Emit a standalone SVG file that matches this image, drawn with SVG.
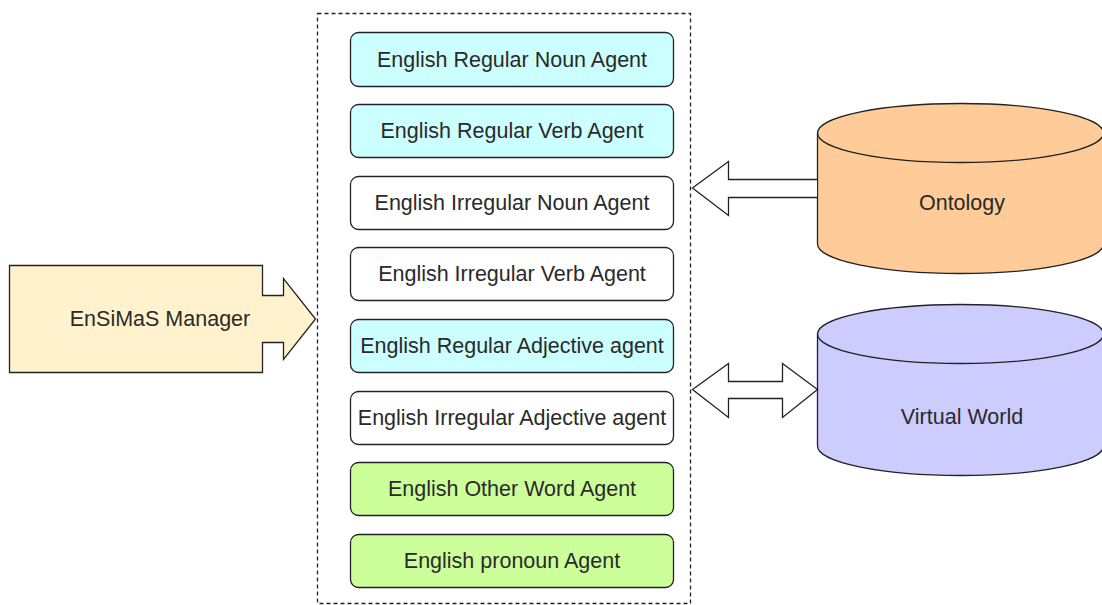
<svg xmlns="http://www.w3.org/2000/svg" width="1102" height="605" viewBox="0 0 1102 605">
<style>
.agent{stroke:#222;stroke-width:1.3}
.cyan{fill:#CCFFFF}
.white{fill:#FFFFFF}
.green{fill:#CCFF99}
text{font-family:"Liberation Sans",Arial,sans-serif;font-size:21.5px;fill:#2a2a2a;text-anchor:middle;dominant-baseline:central}
.shape{stroke:#222;stroke-width:1.3}
.arrow{fill:#fff;stroke:#222;stroke-width:1.3;stroke-linejoin:miter}
</style>
<rect width="1102" height="605" fill="#fff"/>
<g id="container">
<rect x="317.5" y="13.5" width="373" height="590" fill="none" stroke="#222" stroke-width="1.3" stroke-dasharray="4 3"/>
</g>
<g id="agent1"><rect class="agent cyan" x="350.5" y="32.5" width="323" height="54" rx="8"/><text x="512" y="60">English Regular Noun Agent</text></g>
<g id="agent2"><rect class="agent cyan" x="350.5" y="104.5" width="323" height="53" rx="8"/><text x="512" y="131">English Regular Verb Agent</text></g>
<g id="agent3"><rect class="agent white" x="350.5" y="176.5" width="323" height="53" rx="8"/><text x="512" y="203">English Irregular Noun Agent</text></g>
<g id="agent4"><rect class="agent white" x="350.5" y="247.5" width="323" height="53" rx="8"/><text x="512" y="274">English Irregular Verb Agent</text></g>
<g id="agent5"><rect class="agent cyan" x="350.5" y="319.5" width="323" height="53" rx="8"/><text x="512" y="346">English Regular Adjective agent</text></g>
<g id="agent6"><rect class="agent white" x="350.5" y="391.5" width="323" height="53" rx="8"/><text x="512" y="418">English Irregular Adjective agent</text></g>
<g id="agent7"><rect class="agent green" x="350.5" y="462.5" width="323" height="53" rx="8"/><text x="512" y="489">English Other Word Agent</text></g>
<g id="agent8"><rect class="agent green" x="350.5" y="534.5" width="323" height="53" rx="8"/><text x="512" y="561">English pronoun Agent</text></g>
<g id="manager">
<path class="shape" fill="#FFF2CC" d="M9.5 265.5 H262.5 V295.5 H283.5 V278.5 L315.5 319 L283.5 359.5 V342.5 H262.5 V372.5 H9.5 Z"/>
<text x="160" y="319">EnSiMaS Manager</text>
</g>
<g id="ontology">
<path class="shape" fill="#FFCC99" d="M817.5 133 A143 29.5 0 0 1 1103.5 133 V244 A143 29.5 0 0 1 817.5 244 Z"/>
<path class="shape" fill="none" d="M817.5 133 A143 29.5 0 0 0 1103.5 133"/>
<text x="962" y="203">Ontology</text>
</g>
<g id="virtualworld">
<path class="shape" fill="#CCCCFF" d="M817.5 334 A143 29.5 0 0 1 1103.5 334 V446 A143 29.5 0 0 1 817.5 446 Z"/>
<path class="shape" fill="none" d="M817.5 334 A143 29.5 0 0 0 1103.5 334"/>
<text x="962" y="417">Virtual World</text>
</g>
<g id="connectors">
<path class="arrow" d="M817 179.5 H728.5 V161.5 L692.5 188 L728.5 215.5 V197.5 H817"/>
<path class="arrow" d="M692.5 389.5 L728.5 363.5 V381.5 H782.5 V363.5 L817.5 389.5 L782.5 417.5 V398.5 H728.5 V417.5 Z"/>
</g>
</svg>
